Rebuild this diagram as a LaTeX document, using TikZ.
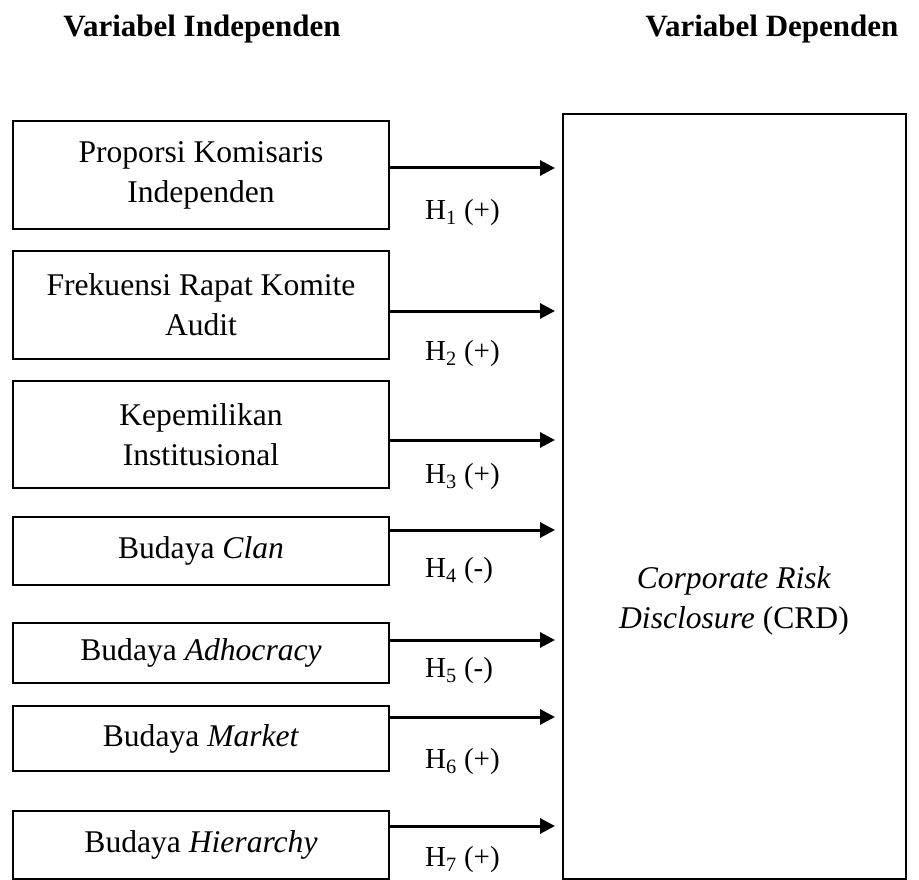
\documentclass[tikz,border=0pt]{standalone}
\usepackage{fontspec}
\setmainfont{Liberation Serif}
\usetikzlibrary{arrows.meta}
\begin{document}
\begin{tikzpicture}[x=1pt,y=-1pt,
  box/.style={draw, line width=2pt, rectangle, inner sep=0pt, anchor=north west,
    minimum width=376pt, align=center, font=\fontsize{31.6}{40}\selectfont},
  head/.style={font=\fontsize{31}{38}\selectfont\bfseries},
  arr/.style={line width=3pt, -{Triangle[length=15pt,width=15pt]}, shorten >=7pt},
  hyp/.style={anchor=west, inner sep=0pt, font=\fontsize{29}{34}\selectfont}]
\useasboundingbox (0,0) rectangle (919,880);
\node[head] (hi) at (202,29) {Variabel Independen};
\node[head] (hd) at (772,29) {Variabel Dependen};
\node[box, minimum height=108pt] (b1) at (12,120) {Proporsi Komisaris\\Independen};
\node[box, minimum height=108pt] (b2) at (12,250) {Frekuensi Rapat Komite\\Audit};
\node[box, minimum height=107pt] (b3) at (12,380) {Kepemilikan\\Institusional};
\node[box, minimum height=68pt] (b4) at (12,516) {Budaya \textit{Clan}};
\node[box, minimum height=60pt] (b5) at (12,622) {Budaya \textit{Adhocracy}};
\node[box, minimum height=65pt] (b6) at (12,705) {Budaya \textit{Market}};
\node[box, minimum height=68pt] (b7) at (12,810) {Budaya \textit{Hierarchy}};
\node[draw, line width=2pt, rectangle, inner sep=0pt, anchor=north west,
  minimum width=343pt, minimum height=765pt] (crd) at (562,113) {};
\node[align=center, font=\fontsize{31.6}{40}\selectfont] (crdt) at (734,601)
  {\textit{Corporate Risk}\\\textit{Disclosure} (CRD)};
\draw[arr] (b1.east |- 0,168) -- (crd.west |- 0,168);
\draw[arr] (b2.east |- 0,311) -- (crd.west |- 0,311);
\draw[arr] (b3.east |- 0,440) -- (crd.west |- 0,440);
\draw[arr] (b4.east |- 0,530) -- (crd.west |- 0,530);
\draw[arr] (b5.east |- 0,640) -- (crd.west |- 0,640);
\draw[arr] (b6.east |- 0,717) -- (crd.west |- 0,717);
\draw[arr] (b7.east |- 0,826) -- (crd.west |- 0,826);
\node[hyp] (h1) at (425,213) {H\textsubscript{1} (+)};
\node[hyp] (h2) at (425,354) {H\textsubscript{2} (+)};
\node[hyp] (h3) at (425,477) {H\textsubscript{3} (+)};
\node[hyp] (h4) at (425,571) {H\textsubscript{4} (-)};
\node[hyp] (h5) at (425,671) {H\textsubscript{5} (-)};
\node[hyp] (h6) at (425,762) {H\textsubscript{6} (+)};
\node[hyp] (h7) at (425,860) {H\textsubscript{7} (+)};
\end{tikzpicture}
\end{document}
